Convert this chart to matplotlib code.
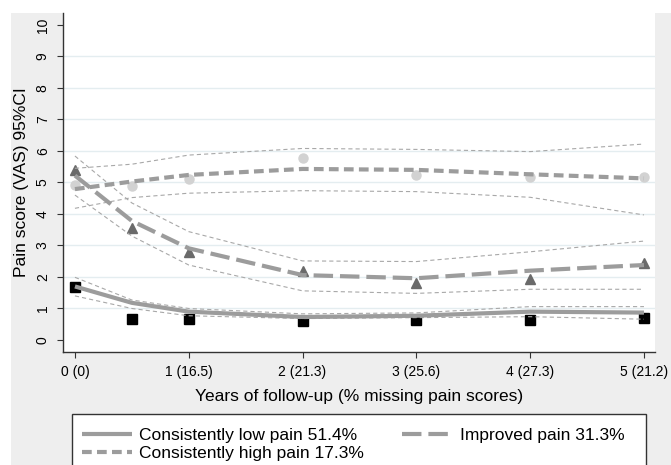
import matplotlib
matplotlib.use("Agg")
import matplotlib.pyplot as plt
from matplotlib.patches import Rectangle

plt.rcParams['font.family'] = ['Liberation Sans', 'DejaVu Sans']
plt.rcParams['lines.scale_dashes'] = False

# Data
years = [0, 0.5, 1, 2, 3, 4, 5]
tick_years = [0, 1, 2, 3, 4, 5]
tick_labels = ["0 (0)", "1 (16.5)", "2 (21.3)", "3 (25.6)", "4 (27.3)", "5 (21.2)"]

low_obs = [1.69, 0.66, 0.67, 0.60, 0.63, 0.63, 0.69]
low_fit = [1.70, 1.18, 0.90, 0.73, 0.77, 0.90, 0.87]
low_ci_hi = [1.99, 1.27, 1.00, 0.83, 0.86, 1.06, 1.06]
low_ci_lo = [1.40, 1.00, 0.77, 0.68, 0.71, 0.74, 0.66]

imp_obs = [5.40, 3.54, 2.78, 2.19, 1.82, 1.93, 2.45]
imp_fit = [5.22, 3.78, 2.91, 2.06, 1.96, 2.20, 2.38]
imp_ci_hi = [5.84, 4.35, 3.44, 2.51, 2.49, 2.80, 3.14]
imp_ci_lo = [4.60, 3.30, 2.38, 1.56, 1.48, 1.61, 1.61]

high_obs = [4.92, 4.90, 5.12, 5.77, 5.24, 5.18, 5.18]
high_fit = [4.79, 5.03, 5.24, 5.43, 5.40, 5.26, 5.13]
high_ci_hi = [5.45, 5.58, 5.87, 6.08, 6.05, 5.98, 6.22]
high_ci_lo = [4.18, 4.52, 4.66, 4.74, 4.71, 4.53, 3.97]

legend_labels = ["Consistently low pain 51.4%", "Consistently high pain 17.3%", "Improved pain 31.3%"]

W, H = 671, 465
fig = plt.figure(figsize=(W / 100, H / 100), dpi=100, facecolor='white')
fig.patches.append(Rectangle((11 / W, 0), 1 - 11 / W, 1 - 13 / H, transform=fig.transFigure,
                             facecolor='#eeeeee', edgecolor='none', zorder=-10))
# legend box frame (extends below the figure edge as in the reference)
fig.patches.append(Rectangle((72 / W, -0.05), (646 - 72) / W, 1 - 414 / H + 0.05,
                             transform=fig.transFigure, facecolor='white',
                             edgecolor='#333333', linewidth=1.0, zorder=-5))

ax = fig.add_axes([63 / W, 1 - 352 / H, (655 - 63) / W, (352 - 13) / H])
ax.set_facecolor('white')

line_col = '#9c9c9c'
ci_col = '#a8a8a8'
grid_col = '#e4edf0'

for v in range(1, 10):
    ax.axhline(v, color=grid_col, lw=1.0, zorder=1)

# observed markers
ax.plot(years, low_obs, linestyle='none', marker='s', markersize=6.5, color='black', zorder=2)
ax.plot(years, imp_obs, linestyle='none', marker='^', markersize=7.5, color='#6a6a6a', zorder=2)
ax.plot(years, high_obs, linestyle='none', marker='o', markersize=6.5, color='#d2d2d2', zorder=2)

# CI lines
for ci in [low_ci_hi, low_ci_lo, imp_ci_hi, imp_ci_lo, high_ci_hi, high_ci_lo]:
    ax.plot(years, ci, color=ci_col, lw=0.8, dashes=(3.0, 2.2), zorder=3)

# fitted lines
l_low, = ax.plot(years, low_fit, color=line_col, lw=3.0, solid_capstyle='butt', zorder=4)
l_high, = ax.plot(years, high_fit, color=line_col, lw=3.0, dashes=(7.0, 3.8), dash_capstyle='butt', zorder=4)
l_imp, = ax.plot(years, imp_fit, color=line_col, lw=3.0, dashes=(14.0, 5.0), dash_capstyle='butt', zorder=4)

ax.set_xlim(-0.105, 5.097)
ax.set_ylim(-0.381, 10.38)
ax.set_xticks(tick_years)
ax.set_xticklabels(tick_labels, fontsize=10)
ax.set_yticks(range(0, 11))
ax.set_yticklabels([str(v) for v in range(0, 11)], fontsize=10, rotation=90, va='center')

for s in ['top', 'right']:
    ax.spines[s].set_visible(False)
for s in ['left', 'bottom']:
    ax.spines[s].set_color('#333333')
    ax.spines[s].set_linewidth(1.0)
ax.tick_params(axis='both', direction='out', length=4.5, width=0.8, color='#333333', labelcolor='black')
ax.tick_params(axis='x', pad=5)
ax.tick_params(axis='y', pad=5)

ax.set_xlabel("Years of follow-up (% missing pain scores)", fontsize=12.5, labelpad=7)
ax.set_ylabel("Pain score (VAS) 95%CI", fontsize=12.5, labelpad=5)

leg = fig.legend([l_low, l_high, l_imp], legend_labels, ncol=2,
                 loc='upper left', bbox_to_anchor=(68 / W, 1 - 414 / H),
                 fontsize=12.5, frameon=False,
                 handlelength=2.9, handletextpad=0.4, labelspacing=0.17,
                 columnspacing=2.2, borderpad=0.8, borderaxespad=0)

fig.savefig("out.png", dpi=100, facecolor=fig.get_facecolor())
